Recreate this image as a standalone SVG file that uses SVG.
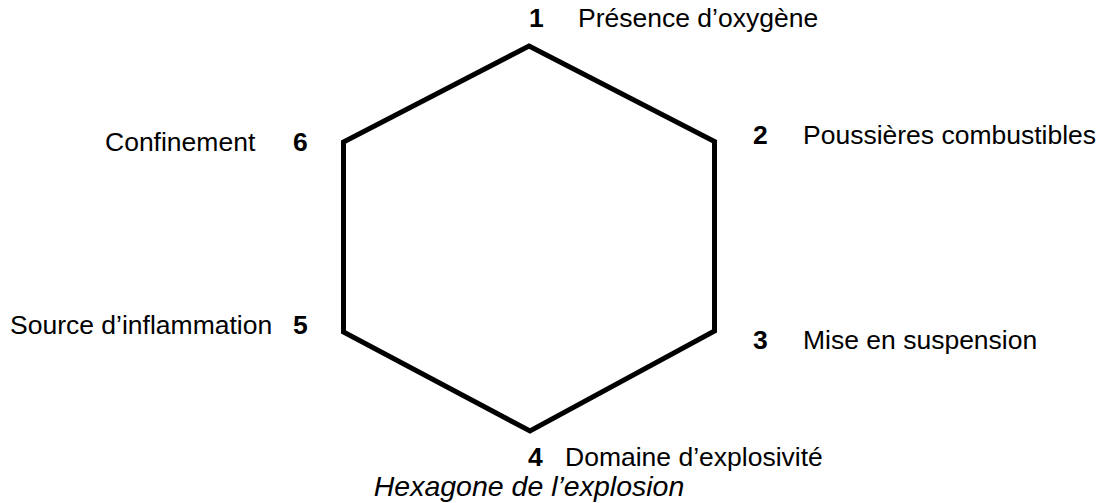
<svg xmlns="http://www.w3.org/2000/svg" width="1103" height="503" viewBox="0 0 1103 503">
  <style>
    text { font-family: "Liberation Sans", Arial, sans-serif; font-size: 26.5px; fill: #000; }
    .num { font-weight: bold; }
    .cap { font-style: italic; font-size: 28.5px; text-anchor: middle; }
    .hex { fill: none; stroke: #000; stroke-width: 5; stroke-linejoin: miter; }
  </style>
  <rect width="1103" height="503" fill="#fff"/>
  <g id="hexagon">
    <polygon class="hex" points="529,46 714.5,141.5 714.5,331 530,431 343.5,332 343.5,142"/>
  </g>
  <g id="connectors"></g>
  <g id="node-1">
    <text class="num" x="529" y="27">1</text>
    <text x="578" y="27">Présence d’oxygène</text>
  </g>
  <g id="node-2">
    <text class="num" x="753" y="144">2</text>
    <text x="803" y="144">Poussières combustibles</text>
  </g>
  <g id="node-3">
    <text class="num" x="753" y="349">3</text>
    <text x="803" y="349">Mise en suspension</text>
  </g>
  <g id="node-4">
    <text class="num" x="528" y="466">4</text>
    <text x="565" y="466">Domaine d’explosivité</text>
  </g>
  <g id="node-5">
    <text class="num" x="293" y="334">5</text>
    <text x="10" y="334">Source d’inflammation</text>
  </g>
  <g id="node-6">
    <text class="num" x="293" y="151">6</text>
    <text x="105" y="151">Confinement</text>
  </g>
  <text class="cap" x="529" y="496">Hexagone de l’explosion</text>
</svg>
